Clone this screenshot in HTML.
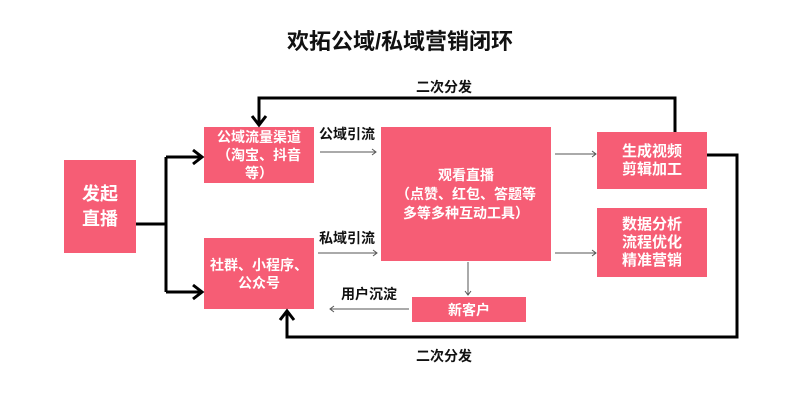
<!DOCTYPE html><html><head><meta charset="utf-8"><style>
body{margin:0;width:800px;height:403px;background:#fff;position:relative;overflow:hidden;font-family:"Liberation Sans","Noto Sans CJK SC",sans-serif;}
.b{position:absolute;background:#f65d75;color:#fff;font-weight:bold;display:flex;align-items:center;justify-content:center;text-align:center;font-size:14px;line-height:18px;}
.t{position:absolute;font-weight:bold;font-size:14px;color:#111;}
svg{position:absolute;left:0;top:0}
</style></head><body>
<div class="t" style="left:0;width:800px;text-align:center;top:24px;font-size:22px">欢拓公域/私域营销闭环</div>
<div class="b" style="left:64px;top:160px;width:72px;height:93px;font-size:18px;line-height:25px">发起<br>直播</div>
<div class="b" style="left:204px;top:127px;width:110px;height:56px">公域流量渠道<br>（淘宝、抖音<br>等）</div>
<div class="b" style="left:204px;top:238px;width:110px;height:71px">社群、小程序、<br>公众号</div>
<div class="b" style="left:381px;top:127px;width:170px;height:134px;line-height:19px">观看直播<br>（点赞、红包、答题等<br>多等多种互动工具）</div>
<div class="b" style="left:597px;top:132px;width:110px;height:57px;font-size:15px">生成视频<br>剪辑加工</div>
<div class="b" style="left:597px;top:208px;width:110px;height:69px;font-size:15px">数据分析<br>流程优化<br>精准营销</div>
<div class="b" style="left:412px;top:297px;width:114px;height:25px">新客户</div>
<div class="t" style="left:319px;top:124px">公域引流</div>
<div class="t" style="left:319px;top:228px">私域引流</div>
<div class="t" style="left:341px;top:284px">用户沉淀</div>
<div class="t" style="left:416px;top:77px">二次分发</div>
<div class="t" style="left:416px;top:346px">二次分发</div>
<svg width="800" height="403">
<g fill="none" stroke="#000" stroke-width="3">
<path d="M136 224H166M166 157V292M166 157H200M166 292H200"/>
<path d="M193 150L202 157L193 164M193 285L202 292L193 299"/>
<path d="M675 132V98H259V124"/>
<path d="M252 116L259 125L266 116"/>
<path d="M707 155H737V337H287V312"/>
<path d="M280 320L287 311L294 320"/>
</g>
<g fill="none" stroke="#555" stroke-width="1">
<path d="M320 152H376M372 149L376 152L372 155"/>
<path d="M318 253H377M373 250L377 253L373 256"/>
<path d="M555 154H596M592 151L596 154L592 157"/>
<path d="M555 253H596M592 250L596 253L592 256"/>
<path d="M468 262V295M465 291L468 295L471 291"/>
<path d="M409 309H330M334 306L330 309L334 312"/>
</g>
</svg>
</body></html>
